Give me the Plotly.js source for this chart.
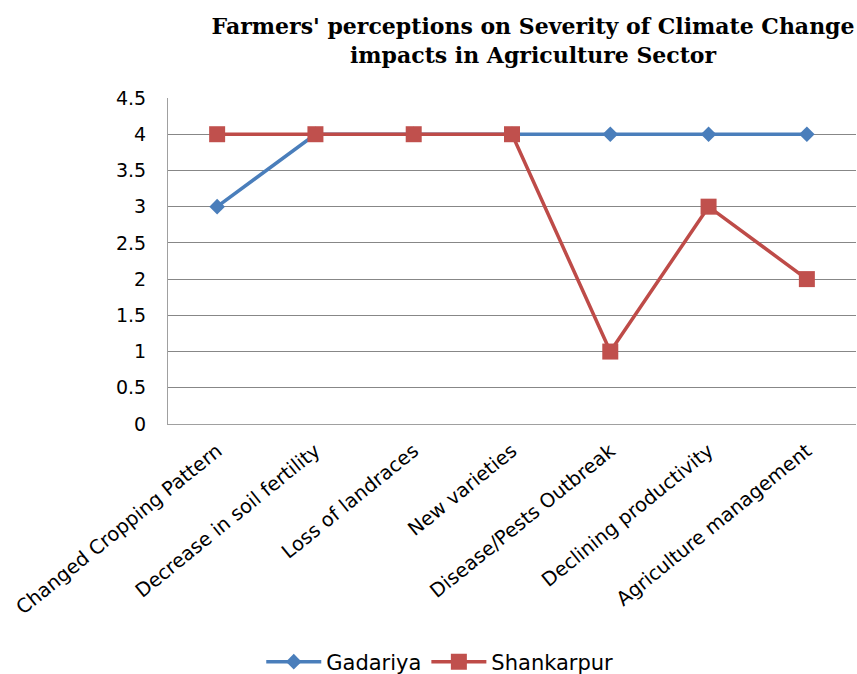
<!DOCTYPE html>
<html><head><meta charset="utf-8">
<script src="https://cdn.plot.ly/plotly-3.0.1.min.js"></script>
<style>html,body{margin:0;padding:0;background:#fff}#chart{width:857px;height:674px}</style>
</head><body><div id="chart"></div>
<script>
const categories = ["Changed Cropping Pattern","Decrease in soil fertility","Loss of landraces","New varieties","Disease/Pests Outbreak","Declining productivity","Agriculture management"];
const gadariya = [3,4,4,4,4,4,4];
const shankarpur = [4,4,4,4,1,3,2];
const yTicks = [0,0.5,1,1.5,2,2.5,3,3.5,4,4.5];

const traces = [
  {x: categories, y: gadariya, name: "Gadariya", type: "scatter", mode: "lines+markers",
   line: {color: "#4A7EBB", width: 3.5}, marker: {symbol: "diamond", size: 12, color: "#4A7EBB"}},
  {x: categories, y: shankarpur, name: "Shankarpur", type: "scatter", mode: "lines+markers",
   line: {color: "#BE4B48", width: 3.5}, marker: {symbol: "square", size: 16, color: "#C0504D"}}
];
const layout = {
  width: 857, height: 674,
  margin: {l: 168, r: 1, t: 98, b: 250, autoexpand: false},
  paper_bgcolor: "#fff", plot_bgcolor: "#fff",
  font: {family: "DejaVu Sans, Arial, sans-serif", color: "#000"},
  title: {text: "Farmers' perceptions on Severity of Climate Change<br>impacts in Agriculture Sector",
    font: {family: "DejaVu Serif, Liberation Serif, serif", size: 22, color: "#000", weight: "bold"},
    x: 0.622, xanchor: "center", yref: "container", y: 0.949, yanchor: "middle"},
  xaxis: {type: "category", range: [-0.5, 6.5], tickangle: -39, tickfont: {size: 19.5},
    showgrid: false, showline: true, linecolor: "#a0a0a0", linewidth: 1, ticks: "",
    ticklabelstandoff: 7, automargin: false},
  yaxis: {range: [0, 4.5], tickvals: yTicks, ticktext: yTicks.map(String), tickfont: {size: 19},
    showgrid: true, gridcolor: "#878787", gridwidth: 1, showline: true, linecolor: "#a0a0a0",
    ticks: "", ticklabelstandoff: 17, zeroline: false, automargin: false},
  legend: {orientation: "h", x: 0.395, xanchor: "center", y: -0.73, yanchor: "middle",
    font: {size: 21}, itemwidth: 55},
  showlegend: true
};
Plotly.newPlot("chart", traces, layout, {displayModeBar: false});
</script></body></html>
